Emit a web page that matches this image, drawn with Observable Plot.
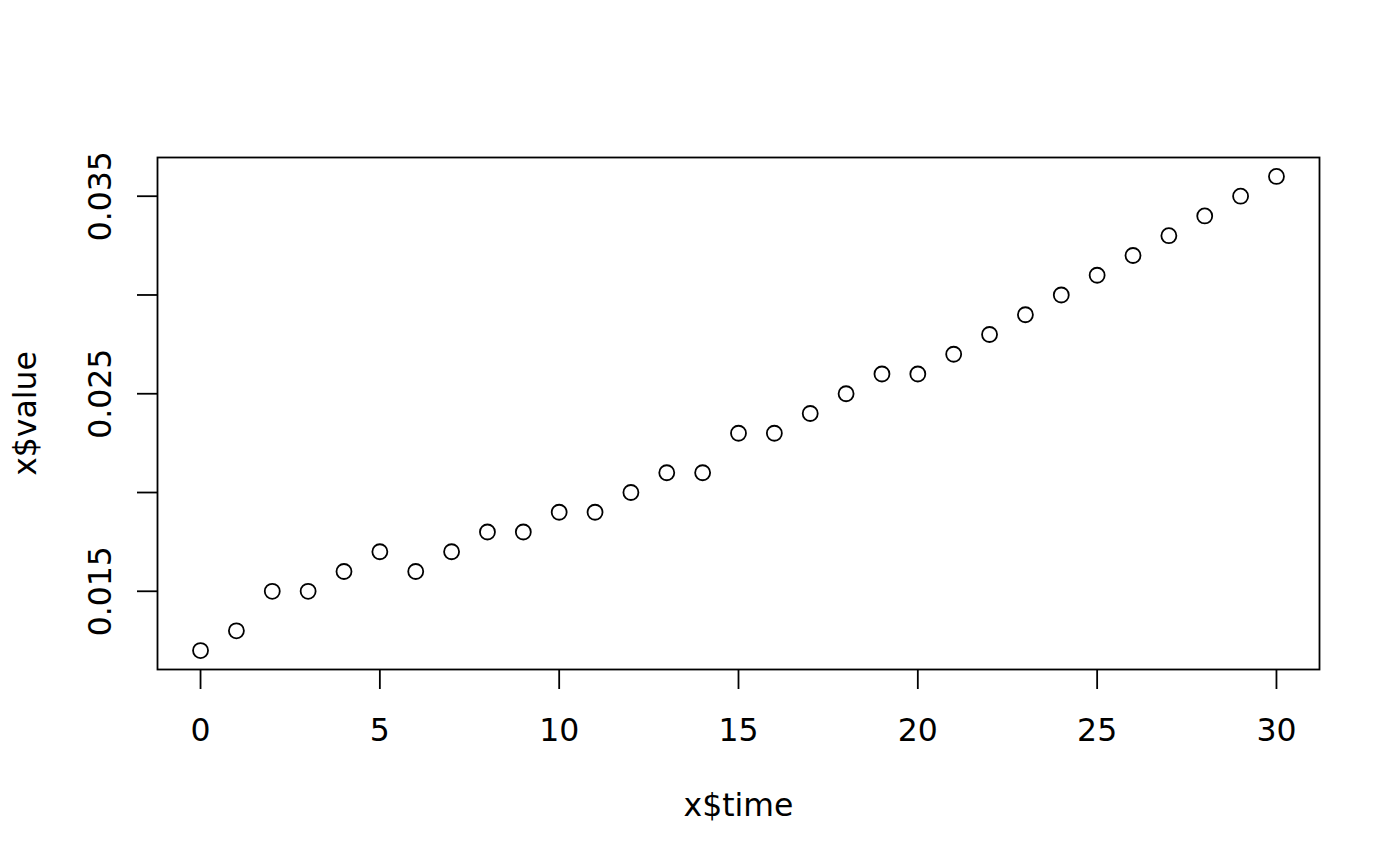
<!DOCTYPE html>
<html>
<head>
<meta charset="utf-8">
<script src="https://cdn.jsdelivr.net/npm/d3@7"></script>
<script src="https://cdn.jsdelivr.net/npm/@observablehq/plot@0.6"></script>
<style>
  html, body { margin: 0; padding: 0; background: white; }
</style>
</head>
<body>
<div id="chart"></div>
<script>
const time = [0,1,2,3,4,5,6,7,8,9,10,11,12,13,14,15,16,17,18,19,20,21,22,23,24,25,26,27,28,29,30];
const value = [0.012,0.013,0.015,0.015,0.016,0.017,0.016,0.017,0.018,0.018,0.019,0.019,0.020,0.021,0.021,0.023,0.023,0.024,0.025,0.026,0.026,0.027,0.028,0.029,0.030,0.031,0.032,0.033,0.034,0.035,0.036];
const xTicks = [0,5,10,15,20,25,30];
const yTicks = [0.015,0.020,0.025,0.030,0.035];
const yTickLabels = [0.015,0.025,0.035];
const xTitle = ["x$time"];
const yTitle = ["x$value"];

const data = time.map((t, i) => ({time: t, value: value[i]}));

const chart = Plot.plot({
  width: 1400,
  height: 866,
  marginLeft: 157,
  marginRight: 81,
  marginTop: 157,
  marginBottom: 197,
  style: {fontFamily: "DejaVu Sans", fontSize: "31.5px", background: "white", color: "black"},
  x: {domain: [-1.2, 31.2]},
  y: {domain: [0.01104, 0.03696]},
  marks: [
    Plot.frame({stroke: "black", strokeWidth: 1.8}),
    Plot.axisX({ticks: xTicks, tickSize: 20, tickPadding: 29, strokeWidth: 1.8, label: null, tickFormat: d => String(d)}),
    Plot.axisY({ticks: yTicks, tickSize: 20, text: null, strokeWidth: 1.8, label: null}),
    Plot.axisY({ticks: yTickLabels, tickSize: 0, tickPadding: 57, rotate: -90, textAnchor: "middle", label: null, tickFormat: d => d.toFixed(3)}),
    Plot.dot(data, {x: "time", y: "value", r: 7.5, stroke: "black", strokeWidth: 1.8, fill: "none"}),
    Plot.text(xTitle, {text: d => d, frameAnchor: "bottom", dy: 136, lineAnchor: "middle", fill: "black"}),
    Plot.text(yTitle, {text: d => d, frameAnchor: "left", dx: -132, rotate: -90, textAnchor: "middle", lineAnchor: "middle", fill: "black"})
  ]
});
document.getElementById("chart").appendChild(chart);
</script>
</body>
</html>
